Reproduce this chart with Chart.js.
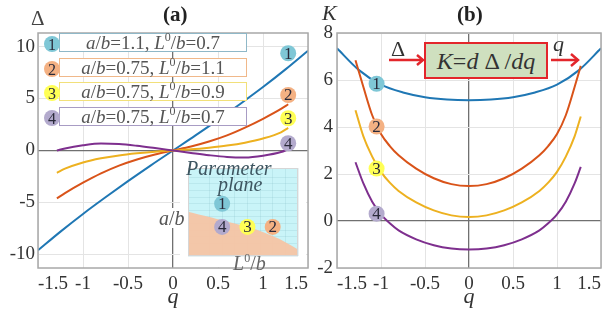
<!DOCTYPE html>
<html><head><meta charset="utf-8">
<script src="https://cdn.jsdelivr.net/npm/chart.js@4.4.1/dist/chart.umd.min.js"></script>
<style>
html,body{margin:0;padding:0;background:#fff;}
#wrap{position:relative;width:609px;height:313px;overflow:hidden;font-family:'Liberation Serif','Times New Roman',serif;color:#333;}
canvas{position:absolute;}
.t{position:absolute;white-space:nowrap;line-height:1;}
.leg{position:absolute;height:17px;width:186px;border:1.5px solid;background:#fff;font-size:19px;color:#555;line-height:17px;text-align:center;box-sizing:content-box;}
.leg sup{font-size:12px;vertical-align:0;position:relative;top:-8px;}
.mk{position:absolute;width:16px;height:16px;border-radius:50%;text-align:center;font-size:16px;line-height:17px;color:#2a2a3a;}
</style></head>
<body><div id="wrap">
<canvas id="ca" width="320" height="313" style="left:0;top:0"></canvas>
<canvas id="cb" width="309" height="313" style="left:300px;top:0"></canvas>
<canvas id="ci" width="126" height="107" style="left:180px;top:160px"></canvas>
<div id="overlay"></div>
</div>
<script>
// ---------- data ----------
const qDeltaBlue = [-1.5,-1.25,-1,-0.75,-0.5,-0.25,0,0.25,0.5,0.75,1,1.25,1.5];
const delta1 = [-9.6,-7.8,-6.1,-4.5,-2.95,-1.45,0,1.45,2.95,4.5,6.1,7.8,9.6];
const qDelta = [-1.29,-1.2,-1.0,-0.8,-0.6,-0.4,-0.2,0,0.2,0.4,0.6,0.8,1.0,1.2,1.28];
const delta2 = [-4.6,-4.1,-3.1,-2.2,-1.45,-0.86,-0.38,0,0.38,0.86,1.45,2.2,3.05,4.0,4.45];
const delta3 = [-2.15,-1.75,-1.15,-0.75,-0.47,-0.27,-0.11,0,0.11,0.27,0.47,0.75,1.15,1.75,2.18];
const delta4 = [0.0,0.2,0.5,0.67,0.62,0.45,0.23,0,-0.23,-0.45,-0.62,-0.67,-0.5,-0.15,0.12];

const qK1 = [-1.5,-1.25,-1,-0.75,-0.5,-0.25,0,0.25,0.5,0.75,1,1.25,1.5];
const K1 = [7.35,6.42,5.8,5.47,5.27,5.17,5.14,5.17,5.27,5.47,5.8,6.42,7.35];
const qK = [-1.29,-1.2,-1.1,-1.0,-0.9,-0.8,-0.6,-0.4,-0.2,0,0.2,0.4,0.6,0.8,0.9,1.0,1.1,1.2,1.27];
const K2 = [6.84,5.7,4.5,3.7,3.19,2.8,2.23,1.82,1.57,1.49,1.57,1.82,2.23,2.8,3.19,3.7,4.5,5.7,6.6];
const K3 = [4.71,3.6,2.74,2.09,1.63,1.28,0.79,0.45,0.24,0.17,0.24,0.45,0.79,1.28,1.63,2.09,2.74,3.6,4.45];
const K4 = [2.5,1.6,0.82,0.28,-0.1,-0.4,-0.78,-1.03,-1.17,-1.21,-1.17,-1.03,-0.78,-0.4,-0.1,0.28,0.82,1.6,2.3];

const xTicks = [-1.5,-1,-0.5,0,0.5,1,1.5];
const yTicksA = [-10,-5,0,5,10];
const yTicksB = [-2,0,2,4,6,8];

const markLabels = ['1','2','3','4'];
const markQA = [1.28,1.28,1.28,1.28];
const markDA = [9.35,5.34,3.1,0.7];
const markQB = [-1.05,-1.05,-1.05,-1.05];
const markKB = [5.84,4.02,2.23,0.31];

// parameter plane (inset)
const paramL = [0.7,1.1,0.9,0.7];
const paramA = [1.1,0.75,0.75,0.75];
const boundaryL = [0.43,0.6,0.7,0.8,0.95,1.05,1.15,1.3];
const boundaryA = [0.98,0.9,0.85,0.8,0.72,0.65,0.57,0.41];

const legendText = [
  ['1.1','0.7'],['0.75','1.1'],['0.75','0.9'],['0.75','0.7']
];

// ---------- styles ----------
const lineColors = ['#1f77b4','#d95319','#edb120','#7e2f8e'];
const markFill = ['#7fc7d6','#f4b183','#ffff55','#b3aacd'];
const FONT = "'Liberation Serif', 'Times New Roman', serif";
Chart.defaults.font.family = FONT;
Chart.defaults.color = '#333';

const zip = (xs, ys) => xs.map((x,i)=>({x:x,y:ys[i]}));

function lineDs(xs, ys, col){
  return {type:'line', order:1, data:zip(xs,ys), borderColor:col, borderWidth:2, pointRadius:0,
          cubicInterpolationMode:'monotone', fill:false};
}
function markDs(xs, ys){
  return {type:'scatter', order:0, isMarker:true, data:zip(xs,ys), pointRadius:8, pointHoverRadius:8,
          pointBackgroundColor:markFill, pointBorderWidth:0};
}
const markerText = {id:'markerText', afterDatasetsDraw(c){
  const ctx=c.ctx;
  c.data.datasets.forEach((ds,di)=>{
    if(!ds.isMarker) return;
    const meta=c.getDatasetMeta(di);
    meta.data.forEach((pt,i)=>{
      ctx.save();
      ctx.font='17px '+FONT; ctx.fillStyle='#2a2a3a';
      ctx.textAlign='center'; ctx.textBaseline='middle';
      ctx.fillText(markLabels[i], pt.x, pt.y+1);
      ctx.restore();
    });
  });
}};
const frame = {id:'frame', afterDraw(c){
  const a=c.chartArea, ctx=c.ctx;
  ctx.save(); ctx.strokeStyle='#a8a8a8'; ctx.lineWidth=1.5;
  ctx.strokeRect(a.left, a.top, a.right-a.left, a.bottom-a.top);
  ctx.restore();
}};
const gridCol = ctx => (ctx.tick && ctx.tick.value===0) ? '#707070' : '#e4e4e4';
const gridW = ctx => (ctx.tick && ctx.tick.value===0) ? 1.3 : 1;
const tickFmt = v => String(v);

function xScale(){
  return {type:'linear', min:-1.5, max:1.5,
    afterBuildTicks:s=>{s.ticks=xTicks.map(v=>({value:v}));},
    afterFit:s=>{s.height=45;},
    ticks:{font:{family:FONT,size:19}, padding:5, align:'inner', maxRotation:0, autoSkip:false, color:'#333', callback:tickFmt},
    grid:{color:gridCol, lineWidth:gridW, drawTicks:false},
    border:{display:false},
    title:{display:true, text:'q', font:{family:FONT,size:22, style:'italic'}, color:'#333', padding:{top:0,bottom:3}}
  };
}

// ---------- chart (a) ----------
new Chart(document.getElementById('ca'), {
  data:{datasets:[
    lineDs(qDelta, delta4, lineColors[3]),
    lineDs(qDelta, delta3, lineColors[2]),
    lineDs(qDelta, delta2, lineColors[1]),
    lineDs(qDeltaBlue, delta1, lineColors[0]),
    markDs(markQA, markDA)
  ]},
  options:{responsive:false, animation:false, events:[],
    layout:{padding:{left:0,top:33,right:12,bottom:0}},
    plugins:{legend:{display:false}, tooltip:{enabled:false}},
    scales:{
      x:xScale(),
      y:{type:'linear', min:-11.3, max:11.3,
        afterBuildTicks:s=>{s.ticks=yTicksA.map(v=>({value:v}));},
        afterFit:s=>{s.width=38;},
        ticks:{font:{family:FONT,size:19}, padding:3, color:'#333', callback:tickFmt},
        grid:{color:gridCol, lineWidth:gridW, drawTicks:false},
        border:{display:false}}
    }
  },
  plugins:[frame, markerText]
});

// ---------- chart (b) ----------
new Chart(document.getElementById('cb'), {
  data:{datasets:[
    lineDs(qK, K4, lineColors[3]),
    lineDs(qK, K3, lineColors[2]),
    lineDs(qK, K2, lineColors[1]),
    lineDs(qK1, K1, lineColors[0]),
    markDs(markQB, markKB)
  ]},
  options:{responsive:false, animation:false, events:[],
    layout:{padding:{left:7,top:33,right:1,bottom:0}},
    plugins:{legend:{display:false}, tooltip:{enabled:false}},
    scales:{
      x:xScale(),
      y:{type:'linear', min:-2, max:8,
        afterBuildTicks:s=>{s.ticks=yTicksB.map(v=>({value:v}));},
        afterFit:s=>{s.width=30;},
        ticks:{font:{family:FONT,size:19}, padding:4, color:'#333', callback:tickFmt},
        grid:{color:gridCol, lineWidth:gridW, drawTicks:false},
        border:{display:false}}
    }
  },
  plugins:[frame, markerText]
});

// ---------- inset: parameter plane ----------
const insetBg = {id:'insetBg', beforeDraw(c){
  const ctx=c.ctx, a=c.chartArea;
  ctx.save(); ctx.fillStyle='#fff'; ctx.fillRect(0,0,c.width,c.height);
  ctx.fillStyle='#c9f4f8'; ctx.fillRect(a.left,a.top,a.right-a.left,a.bottom-a.top);
  ctx.restore();
}, afterDraw(c){
  const ctx=c.ctx, a=c.chartArea;
  ctx.save(); ctx.strokeStyle='#d6d6d6'; ctx.lineWidth=1;
  ctx.strokeRect(a.left+0.5,a.top+0.5,a.right-a.left-1,a.bottom-a.top-1); ctx.restore();
}};
new Chart(document.getElementById('ci'), {
  data:{datasets:[
    {type:'line', order:1, data:zip(boundaryL,boundaryA), borderWidth:0, borderColor:'rgba(0,0,0,0)',
     backgroundColor:'rgba(246,196,164,0.95)', fill:'start', pointRadius:0, tension:0.3},
    markDs(paramL, paramA)
  ]},
  options:{responsive:false, animation:false, events:[],
    layout:{padding:{left:5,top:5,right:6,bottom:11}},
    plugins:{legend:{display:false}, tooltip:{enabled:false}},
    scales:{
      x:{type:'linear', min:0.43, max:1.3, afterFit:s=>{s.height=0;},
         ticks:{display:false, stepSize:0.1}, grid:{color:'rgba(120,180,190,0.18)', drawTicks:false}, border:{display:false}},
      y:{type:'linear', min:0.31, max:1.64, afterFit:s=>{s.width=0;},
         ticks:{display:false, stepSize:0.1}, grid:{color:'rgba(120,180,190,0.18)', drawTicks:false}, border:{display:false}}
    }
  },
  plugins:[insetBg, markerText]
});

// ---------- text overlays ----------
const ov = document.getElementById('overlay');
function add(html, style){ const d=document.createElement('div'); d.className='t'; d.innerHTML=html; d.style.cssText+=style; ov.appendChild(d); return d; }

add('Δ','left:31px;top:8px;font-size:21px;color:#444;');
add('(a)','left:163px;top:4px;font-size:21px;font-weight:bold;color:#222;');
add('<i>K</i>','left:322px;top:2px;font-size:22px;color:#333;');
add('(b)','left:457px;top:4px;font-size:21px;font-weight:bold;color:#222;');

// legend boxes
const legBorder = ['#8fb8c8','#f0b88a','#f2e07a','#a89cc4'];
const legTop = [33,58,82,107];
legendText.forEach((p,i)=>{
  const d=document.createElement('div'); d.className='leg';
  d.style.left='59px'; d.style.top=legTop[i]+'px'; d.style.borderColor=legBorder[i];
  d.innerHTML='<i>a</i>/<i>b</i>='+p[0]+', <i>L</i><sup>0</sup>/<i>b</i>='+p[1];
  ov.appendChild(d);
  const m=document.createElement('div'); m.className='mk';
  m.style.left='44px'; m.style.top=(legTop[i]+3)+'px'; m.style.background=markFill[i];
  m.textContent=markLabels[i];
  ov.appendChild(m);
});

// inset labels
add('<i>Parameter</i>','left:186px;top:158px;font-size:20px;color:#3d5560;');
add('<i>plane</i>','left:218px;top:174px;font-size:20px;color:#3d5560;');
add('<i>a</i>/<i>b</i>','left:157px;top:208px;font-size:20px;color:#555;background:#fff;padding:0 2px;');
add('<i>L</i><sup style="font-size:12px;vertical-align:0;position:relative;top:-8px;">0</sup>/<i>b</i>','left:233px;top:253px;font-size:20px;color:#666;');

// formula box
add('<i>K</i>=<i>d</i> Δ /<i>dq</i>','left:424px;top:42px;width:120px;height:33px;line-height:34px;text-align:center;font-size:24px;color:#333;background:#cfe0bf;border:2.5px solid #e3262b;');
add('Δ','left:391px;top:38px;font-size:22px;color:#333;');
add('<i>q</i>','left:553px;top:33px;font-size:22px;color:#333;');
const svgNS='http://www.w3.org/2000/svg';
const svg=document.createElementNS(svgNS,'svg');
svg.setAttribute('width','609'); svg.setAttribute('height','313');
svg.style.cssText='position:absolute;left:0;top:0;';
svg.innerHTML='<line x1="389" y1="60" x2="423" y2="60" stroke="#e3262b" stroke-width="2.5"/>'+
 '<polyline points="417,55 423,60 417,65" fill="none" stroke="#e3262b" stroke-width="2.5"/>'+
 '<line x1="551" y1="60" x2="578" y2="60" stroke="#e3262b" stroke-width="2.5"/>'+
 '<polyline points="571,54 578,60 571,66" fill="none" stroke="#e3262b" stroke-width="2.5"/>';
ov.appendChild(svg);
</script>
</body></html>
